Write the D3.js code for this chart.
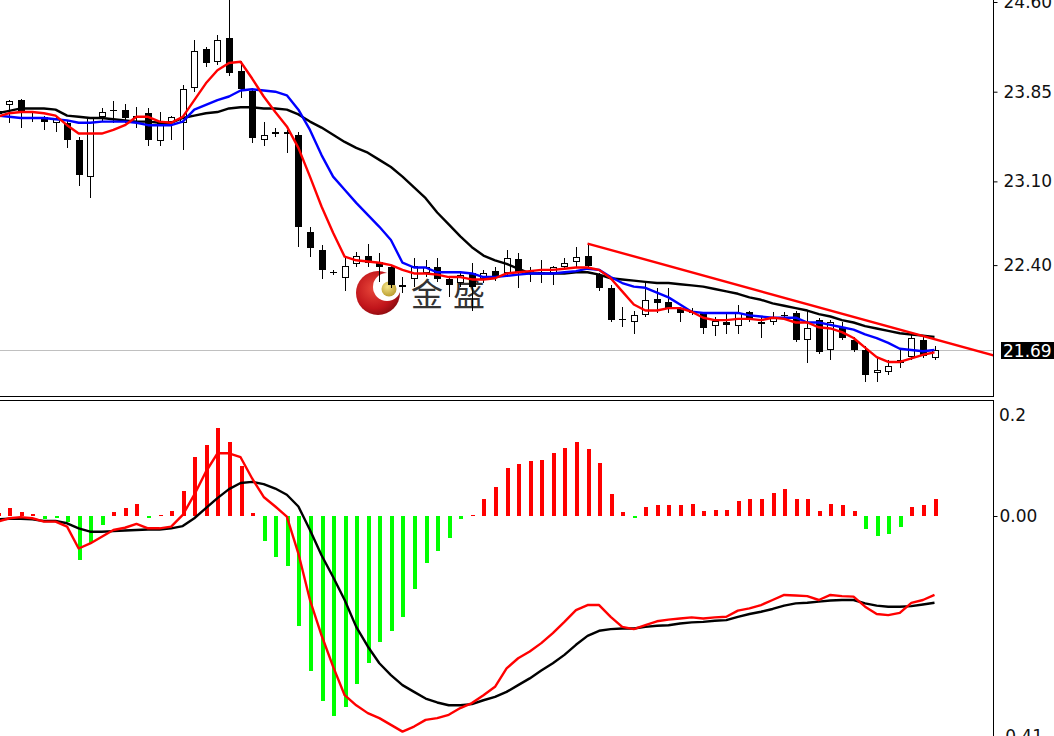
<!DOCTYPE html>
<html><head><meta charset="utf-8">
<script src="https://cdn.jsdelivr.net/npm/d3@7/dist/d3.min.js"></script>
<style>html,body{margin:0;padding:0;background:#fff;overflow:hidden}svg{display:block}</style>
</head><body>
<svg id="c" width="1054" height="736"></svg>
<script>
// ---- data (bar index 0..81) ----
const opens  = [23.66,23.74,23.78,23.64,23.64,23.59,23.59,23.45,23.14,23.64,23.70,23.70,23.63,23.67,23.44,23.60,23.59,23.88,24.21,24.10,24.30,24.02,23.86,23.45,23.50,23.51,23.49,22.68,22.53,22.34,22.29,22.41,22.48,22.43,22.38,22.23,22.28,22.33,22.38,22.28,22.25,22.33,22.28,22.35,22.33,22.45,22.34,22.33,22.33,22.38,22.43,22.48,22.32,22.21,21.95,21.92,21.98,22.12,22.09,22.03,22.01,22.00,21.89,21.92,21.89,22.01,21.92,21.92,21.98,22.00,21.77,21.94,21.69,21.88,21.77,21.69,21.50,21.51,21.58,21.63,21.77,21.62];
const highs  = [23.72,23.78,23.79,23.68,23.65,23.65,23.61,23.47,23.64,23.71,23.77,23.75,23.72,23.71,23.68,23.65,23.91,24.28,24.22,24.32,24.70,24.11,23.88,23.60,23.55,23.53,23.51,22.72,22.57,22.36,22.46,22.51,22.58,22.50,22.40,22.30,22.46,22.44,22.46,22.29,22.34,22.42,22.36,22.38,22.53,22.50,22.38,22.44,22.39,22.46,22.55,22.57,22.33,22.23,22.05,22.02,22.25,22.21,22.21,22.05,22.04,22.01,21.97,22.01,22.07,22.02,21.97,22.01,22.01,22.02,22.02,21.96,21.94,21.92,21.80,21.72,21.62,21.61,21.71,21.82,21.80,21.72];
const lows   = [23.63,23.59,23.55,23.60,23.53,23.51,23.38,23.06,22.96,23.60,23.59,23.59,23.55,23.40,23.40,23.45,23.36,23.85,24.06,24.07,23.98,23.80,23.42,23.40,23.47,23.34,22.55,22.47,22.28,22.32,22.18,22.38,22.38,22.26,22.21,22.17,22.22,22.30,22.26,22.13,22.22,22.02,22.25,22.27,22.30,22.21,22.26,22.25,22.23,22.36,22.38,22.36,22.18,21.92,21.88,21.82,21.97,22.00,22.00,21.92,21.98,21.82,21.81,21.82,21.82,21.92,21.79,21.90,21.96,21.76,21.58,21.66,21.61,21.77,21.67,21.42,21.42,21.48,21.54,21.61,21.62,21.61];
const closes = [23.69,23.77,23.68,23.63,23.60,23.63,23.45,23.15,23.63,23.68,23.69,23.63,23.65,23.45,23.59,23.64,23.87,24.19,24.09,24.28,24.01,23.87,23.46,23.49,23.51,23.50,22.72,22.54,22.36,22.34,22.39,22.48,22.42,22.38,22.23,22.22,22.39,22.38,22.28,22.23,22.32,22.22,22.33,22.29,22.46,22.34,22.35,22.34,22.38,22.42,22.47,22.39,22.21,21.94,21.94,21.98,22.11,22.08,22.04,22.00,22.01,21.87,21.93,21.90,22.00,21.94,21.91,21.96,21.98,21.77,21.87,21.67,21.92,21.79,21.69,21.48,21.52,21.56,21.61,21.79,21.64,21.69];

const maRed   = [23.64,23.67,23.68,23.68,23.67,23.65,23.57,23.50,23.50,23.50,23.53,23.57,23.64,23.64,23.60,23.59,23.64,23.78,23.92,24.03,24.09,24.10,23.96,23.81,23.68,23.56,23.38,23.14,22.89,22.67,22.47,22.44,22.43,22.42,22.40,22.36,22.33,22.33,22.32,22.30,22.30,22.28,22.28,22.29,22.33,22.34,22.35,22.36,22.36,22.37,22.38,22.38,22.36,22.29,22.18,22.07,22.02,22.02,22.04,22.04,22.01,21.96,21.94,21.94,21.95,21.95,21.94,21.96,21.95,21.92,21.92,21.88,21.87,21.84,21.79,21.71,21.63,21.59,21.59,21.62,21.65,21.67];
const maBlue  = [23.65,23.64,23.63,23.63,23.63,23.62,23.61,23.59,23.59,23.60,23.60,23.60,23.59,23.57,23.57,23.57,23.60,23.70,23.74,23.78,23.81,23.86,23.87,23.86,23.85,23.82,23.70,23.53,23.32,23.14,23.03,22.92,22.82,22.72,22.61,22.42,22.38,22.38,22.34,22.34,22.34,22.33,22.30,22.30,22.31,22.32,22.33,22.33,22.33,22.34,22.35,22.37,22.36,22.30,22.25,22.22,22.21,22.17,22.13,22.07,22.01,22.00,22.00,22.00,22.00,21.98,21.97,21.96,21.96,21.96,21.92,21.92,21.90,21.88,21.86,21.82,21.79,21.75,21.70,21.69,21.68,21.69];
const maBlack = [23.67,23.69,23.71,23.71,23.71,23.70,23.65,23.64,23.63,23.63,23.62,23.61,23.60,23.60,23.59,23.59,23.63,23.65,23.67,23.68,23.71,23.72,23.72,23.71,23.71,23.70,23.66,23.60,23.55,23.49,23.43,23.38,23.34,23.28,23.22,23.14,23.05,22.96,22.84,22.74,22.64,22.55,22.48,22.44,22.41,22.37,22.33,22.33,22.33,22.33,22.34,22.34,22.32,22.29,22.28,22.27,22.26,22.25,22.25,22.24,22.23,22.22,22.20,22.18,22.16,22.13,22.11,22.08,22.06,22.04,22.02,21.99,21.97,21.94,21.92,21.89,21.87,21.85,21.83,21.82,21.81,21.80];

const macdHist   = [0.005,0.014,0.007,0.003,-0.005,-0.003,-0.011,-0.079,-0.048,-0.016,0.007,0.014,0.021,-0.004,0.002,0.009,0.045,0.105,0.127,0.157,0.132,0.089,0.005,-0.045,-0.073,-0.089,-0.196,-0.277,-0.330,-0.357,-0.341,-0.300,-0.263,-0.225,-0.205,-0.180,-0.130,-0.084,-0.063,-0.039,-0.005,0.002,0.030,0.052,0.086,0.093,0.098,0.100,0.113,0.121,0.132,0.120,0.095,0.039,0.007,-0.004,0.016,0.020,0.020,0.020,0.021,0.009,0.011,0.011,0.027,0.030,0.030,0.041,0.048,0.030,0.030,0.009,0.021,0.020,0.009,-0.023,-0.036,-0.032,-0.020,0.016,0.020,0.030];
const macdLine   = [-0.010,-0.004,-0.002,-0.004,-0.010,-0.010,-0.019,-0.058,-0.049,-0.037,-0.025,-0.021,-0.014,-0.022,-0.022,-0.019,0.002,0.038,0.079,0.112,0.112,0.105,0.067,0.034,0.017,-0.001,-0.067,-0.150,-0.213,-0.269,-0.320,-0.338,-0.352,-0.361,-0.373,-0.385,-0.376,-0.364,-0.361,-0.355,-0.343,-0.334,-0.320,-0.305,-0.272,-0.254,-0.242,-0.227,-0.209,-0.189,-0.168,-0.159,-0.159,-0.180,-0.198,-0.202,-0.195,-0.188,-0.185,-0.183,-0.181,-0.183,-0.181,-0.180,-0.169,-0.165,-0.159,-0.150,-0.141,-0.142,-0.143,-0.150,-0.141,-0.143,-0.144,-0.162,-0.175,-0.177,-0.173,-0.155,-0.150,-0.141];
const macdSignal = [-0.006,-0.005,-0.005,-0.006,-0.009,-0.009,-0.013,-0.022,-0.028,-0.028,-0.027,-0.026,-0.025,-0.024,-0.024,-0.022,-0.018,-0.004,0.014,0.032,0.048,0.059,0.061,0.057,0.049,0.038,0.017,-0.025,-0.070,-0.109,-0.150,-0.198,-0.233,-0.263,-0.284,-0.302,-0.314,-0.326,-0.333,-0.338,-0.338,-0.336,-0.329,-0.323,-0.314,-0.302,-0.290,-0.276,-0.263,-0.248,-0.230,-0.214,-0.205,-0.202,-0.201,-0.201,-0.198,-0.196,-0.195,-0.192,-0.190,-0.189,-0.187,-0.186,-0.180,-0.175,-0.171,-0.166,-0.160,-0.156,-0.155,-0.153,-0.151,-0.150,-0.150,-0.156,-0.160,-0.162,-0.162,-0.161,-0.158,-0.155];

const priceTicks = [24.60, 23.85, 23.10, 22.40];
const lastPrice = 21.69;
const trendPts = [[51, 22.58], [81, 21.78]];
const macdZeroTick = [0];
const macdMaxLabel = "0.2";
const macdMinLabel = "-0.41";
const logoText = "金盛";

// ---- layout ----
const W = 1054, H = 736;
const axisX = 993;
const mainTop = 0, mainBottom = 396;
const macdTop = 400, macdBottom = 736;
const LW = 2.4;

const svg = d3.select("#c");
const idx = d3.range(opens.length);
const x = d3.scaleLinear().domain([0, 81]).range([-2.3, 934.5]);
const y = d3.scaleLinear().domain([21.69, 23.85]).range([350, 91.7]);
const ym = d3.scaleLinear().domain([0, 0.2]).range([516, 404]);
const px = i => Math.round(x(i));

const defs = svg.append("defs");
defs.append("clipPath").attr("id","clipMain").append("rect").attr("x",0).attr("y",mainTop).attr("width",axisX).attr("height",mainBottom-mainTop);
defs.append("clipPath").attr("id","clipMacd").append("rect").attr("x",0).attr("y",macdTop+1).attr("width",axisX).attr("height",macdBottom-macdTop);
const rg = defs.append("radialGradient").attr("id","logoRed").attr("cx","40%").attr("cy","40%").attr("r","65%");
rg.append("stop").attr("offset","0%").attr("stop-color","#e8473a");
rg.append("stop").attr("offset","70%").attr("stop-color","#c0141a");
rg.append("stop").attr("offset","100%").attr("stop-color","#8a0c10");
const gg = defs.append("radialGradient").attr("id","logoGold").attr("cx","40%").attr("cy","35%").attr("r","70%");
gg.append("stop").attr("offset","0%").attr("stop-color","#f4e48a");
gg.append("stop").attr("offset","100%").attr("stop-color","#b89a2a");

// ---- main pane ----
const main = svg.append("g").attr("clip-path","url(#clipMain)");

// watermark logo
const logo = main.append("g");
logo.append("circle").attr("cx",378).attr("cy",293).attr("r",22).attr("fill","url(#logoRed)");
logo.append("circle").attr("cx",387).attr("cy",287).attr("r",14).attr("fill","#fff");
logo.append("circle").attr("cx",389).attr("cy",289).attr("r",7.5).attr("fill","url(#logoGold)");
logo.append("text").attr("x",411).attr("y",292).attr("dominant-baseline","central")
  .attr("font-family","'Noto Sans CJK SC'").attr("font-size",32).attr("letter-spacing",10)
  .attr("fill","#333").text(logoText);

// last price line
main.append("line").attr("x1",0).attr("x2",axisX).attr("y1",Math.round(y(lastPrice))+0.5).attr("y2",Math.round(y(lastPrice))+0.5)
  .attr("stroke","#c0c0c0").attr("stroke-width",1);

// candles
const cg = main.append("g").attr("shape-rendering","crispEdges");
cg.selectAll("line.wick").data(idx).join("line").attr("class","wick")
  .attr("x1",i=>px(i)+0.5).attr("x2",i=>px(i)+0.5)
  .attr("y1",i=>y(highs[i])).attr("y2",i=>y(lows[i]))
  .attr("stroke","#000").attr("stroke-width",1);
cg.selectAll("rect.body").data(idx).join("rect").attr("class","body")
  .each(function(i){
    const up = closes[i] >= opens[i];
    const top = Math.round(y(Math.max(opens[i],closes[i])));
    const bot = Math.round(y(Math.min(opens[i],closes[i])));
    const h = Math.max(1, bot-top);
    const s = d3.select(this);
    if (up && h > 1) {
      s.attr("x",px(i)-3+0.5).attr("y",top+0.5).attr("width",6).attr("height",h-1)
       .attr("fill","#fff").attr("stroke","#000").attr("stroke-width",1);
    } else {
      s.attr("x",px(i)-3).attr("y",top).attr("width",7).attr("height",h).attr("fill","#000");
    }
  });

// moving averages
const maLine = d3.line().x((d,i)=>x(i)).y(d=>y(d));
[[maBlack,"#000000"],[maBlue,"#0000ff"],[maRed,"#ff0000"]].forEach(([arr,col])=>{
  main.append("path").attr("d",maLine(arr)).attr("fill","none").attr("stroke",col).attr("stroke-width",LW).attr("stroke-linejoin","round");
});

// trendline ray
const [t1,t2] = trendPts;
const slope = (t2[1]-t1[1])/(t2[0]-t1[0]);
const iEnd = x.invert(axisX+2);
main.append("line")
  .attr("x1",x(t1[0])).attr("y1",y(t1[1]))
  .attr("x2",x(iEnd)).attr("y2",y(t1[1]+slope*(iEnd-t1[0])))
  .attr("stroke","#ff0000").attr("stroke-width",LW);

// ---- macd pane ----
const mg = svg.append("g").attr("clip-path","url(#clipMacd)");
mg.append("g").attr("shape-rendering","crispEdges").selectAll("rect").data(idx).join("rect")
  .attr("x",i=>px(i)-1.5).attr("width",4)
  .attr("y",i=>Math.min(ym(0),ym(macdHist[i])))
  .attr("height",i=>Math.max(1,Math.abs(ym(macdHist[i])-ym(0))))
  .attr("fill",i=>macdHist[i]>=0?"#ff0000":"#00ff00");
const mLine = d3.line().x((d,i)=>x(i)).y(d=>ym(d));
mg.append("path").attr("d",mLine(macdSignal)).attr("fill","none").attr("stroke","#000").attr("stroke-width",LW).attr("stroke-linejoin","round");
mg.append("path").attr("d",mLine(macdLine)).attr("fill","none").attr("stroke","#ff0000").attr("stroke-width",LW).attr("stroke-linejoin","round");

// ---- frames ----
const fr = svg.append("g").attr("stroke","#000").attr("stroke-width",1).attr("shape-rendering","crispEdges");
fr.append("line").attr("x1",0).attr("x2",axisX+1).attr("y1",mainBottom+0.5).attr("y2",mainBottom+0.5);
fr.append("line").attr("x1",axisX+0.5).attr("x2",axisX+0.5).attr("y1",0).attr("y2",mainBottom+1);
fr.append("line").attr("x1",0).attr("x2",axisX+1).attr("y1",macdTop+0.5).attr("y2",macdTop+0.5);
fr.append("line").attr("x1",axisX+0.5).attr("x2",axisX+0.5).attr("y1",macdTop).attr("y2",H);

// ---- axes ----
const font = "'DejaVu Sans', Verdana, sans-serif";
const yAxis = d3.axisRight(y).tickValues(priceTicks).tickFormat(d3.format(".2f")).tickSize(4).tickPadding(6);
const ga = svg.append("g").attr("transform",`translate(${axisX+0.5},0)`).call(yAxis);
ga.select(".domain").remove();
ga.selectAll("text").attr("font-family",font).attr("font-size",17).attr("fill","#111");
ga.selectAll("line").attr("stroke","#000");

// last price box
const ly = y(lastPrice);
svg.append("rect").attr("x",1001).attr("y",ly-8).attr("width",53).attr("height",17).attr("fill","#000");
svg.append("text").attr("x",1003).attr("y",ly+0.5).attr("dominant-baseline","central")
  .attr("font-family",font).attr("font-size",17).attr("fill","#fff").text(d3.format(".2f")(lastPrice));

const mAxis = d3.axisRight(ym).tickValues(macdZeroTick).tickFormat(d3.format(".2f")).tickSize(4).tickPadding(2);
const gm = svg.append("g").attr("transform",`translate(${axisX+0.5},0)`).call(mAxis);
gm.select(".domain").remove();
gm.selectAll("text").attr("font-family",font).attr("font-size",17).attr("fill","#111");
svg.append("text").attr("x",999).attr("y",415).attr("dominant-baseline","central")
  .attr("font-family",font).attr("font-size",17).attr("fill","#111").text(macdMaxLabel);
svg.append("text").attr("x",999).attr("y",736).attr("dominant-baseline","central")
  .attr("font-family",font).attr("font-size",17).attr("fill","#111").text(macdMinLabel);
</script>
</body></html>
